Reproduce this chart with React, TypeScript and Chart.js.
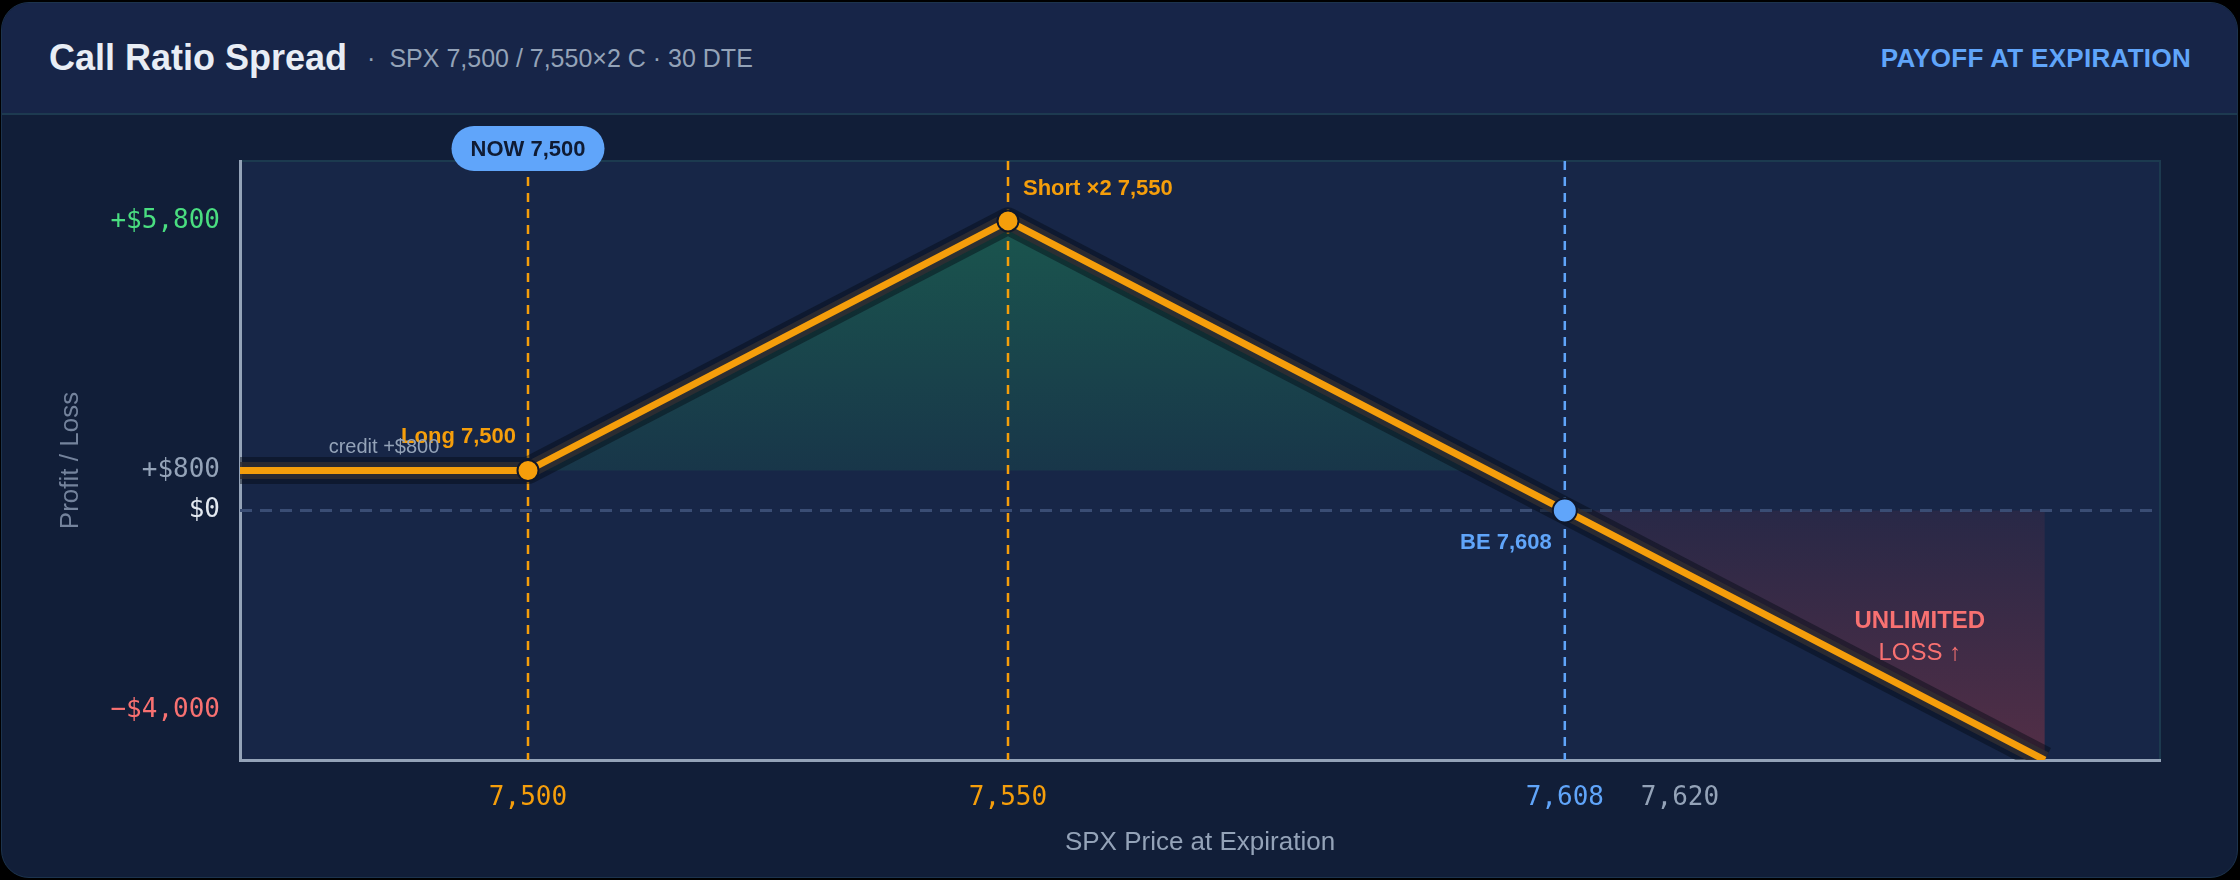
import React, { useEffect, useRef } from 'react';
import { Chart, registerables } from 'chart.js';

Chart.register(...registerables);

// ---- data ----
const payoffPrices = [7470, 7500, 7550, 7608, 7658];
const payoffPnl = [800, 800, 5800, 0, -5000];
const profitZonePrices = [7500, 7550, 7600];
const profitZonePnl = [800, 5800, 800];
const lossZonePrices = [7608, 7658];
const lossZonePnl = [0, -5000];
const strikePrices = [7500, 7550];
const breakEvenPrice = 7608;
const xTickValues = [7500, 7550, 7608, 7620];
const yTickValues = [-4000, 0, 800, 5800];
const xLimits = [7470, 7670];
const yLimits = [-5000, 7000];

const ORANGE = '#f59e0b';
const BLUE = '#60a5fa';
const SANS = "'Liberation Sans', Arial, sans-serif";
const MONO = "'DejaVu Sans Mono', monospace";

const fmt = (v: number) => Math.abs(v).toLocaleString('en-US');

const xTickColor = (v: number) =>
  strikePrices.includes(v) ? ORANGE : v === breakEvenPrice ? BLUE : '#94a3b8';
const yTickColor = (v: number) =>
  v === 5800 ? '#4ade80' : v === 0 ? '#e2e8f0' : v < 0 ? '#f87171' : '#94a3b8';

const bgPlugin = {
  id: 'plotBg',
  beforeDraw(chart: any) {
    const { ctx, chartArea: a } = chart;
    ctx.save();
    ctx.fillStyle = '#172647';
    ctx.fillRect(a.left, a.top, a.right - a.left, a.bottom - a.top);
    ctx.strokeStyle = '#1c3a4f';
    ctx.lineWidth = 2;
    ctx.beginPath();
    ctx.moveTo(a.left, a.top);
    ctx.lineTo(a.right, a.top);
    ctx.lineTo(a.right, a.bottom);
    ctx.stroke();
    ctx.restore();
  },
};

const labelPlugin = {
  id: 'labels',
  afterDatasetsDraw(chart: any) {
    const { ctx, chartArea: a, scales } = chart;
    const x = scales.x;
    const y = scales.y;
    const px = (v: number) => x.getPixelForValue(v);
    const py = (v: number) => y.getPixelForValue(v);
    ctx.save();
    ctx.textBaseline = 'middle';

    // Long strike label
    ctx.font = `bold 22px ${SANS}`;
    ctx.fillStyle = ORANGE;
    ctx.textAlign = 'right';
    ctx.fillText(`Long ${fmt(strikePrices[0])}`, px(strikePrices[0]) - 12, py(payoffPnl[1]) - 34);

    // credit label
    ctx.font = `20px ${SANS}`;
    ctx.fillStyle = '#94a3b8';
    ctx.textAlign = 'center';
    ctx.fillText(`credit +$${fmt(payoffPnl[0])}`, (a.left + px(strikePrices[0])) / 2, py(payoffPnl[0]) - 23);

    // Short strike label
    ctx.font = `bold 22px ${SANS}`;
    ctx.fillStyle = ORANGE;
    ctx.textAlign = 'left';
    ctx.fillText(`Short ×2 ${fmt(strikePrices[1])}`, px(strikePrices[1]) + 15, py(payoffPnl[2]) - 32);

    // Break-even label
    ctx.fillStyle = BLUE;
    ctx.textAlign = 'right';
    ctx.fillText(`BE ${fmt(breakEvenPrice)}`, px(breakEvenPrice) - 13, py(0) + 33);

    // Unlimited loss
    const lx = px(lossZonePrices[1]) - 125;
    ctx.fillStyle = '#f87171';
    ctx.textAlign = 'center';
    ctx.font = `bold 24px ${SANS}`;
    ctx.fillText('UNLIMITED', lx, py(0) + 111);
    ctx.font = `24px ${SANS}`;
    ctx.fillText('LOSS ↑', lx, py(0) + 143);

    // NOW pill
    const cx = px(strikePrices[0]);
    const cy = a.top - 12.5;
    const w = 153;
    const h = 45;
    ctx.fillStyle = BLUE;
    ctx.beginPath();
    ctx.roundRect(cx - w / 2, cy - h / 2, w, h, h / 2);
    ctx.fill();
    ctx.fillStyle = '#0f1b33';
    ctx.font = `bold 22px ${SANS}`;
    ctx.textAlign = 'center';
    ctx.fillText(`NOW ${fmt(strikePrices[0])}`, cx, cy + 1);
    ctx.restore();
  },
};

const pts = (xs: number[], ys: number[]) => xs.map((v, i) => ({ x: v, y: ys[i] }));

export default function App() {
  const ref = useRef<HTMLCanvasElement | null>(null);

  useEffect(() => {
    if (!ref.current) return;
    const greenFill = (c: any) => {
      const ch = c.chart;
      if (!ch.chartArea) return 'rgba(34,197,94,0.15)';
      const y0 = ch.scales.y.getPixelForValue(5800);
      const y1 = ch.scales.y.getPixelForValue(800);
      const g = ch.ctx.createLinearGradient(0, y0, 0, y1);
      g.addColorStop(0, 'rgba(34,197,94,0.30)');
      g.addColorStop(1, 'rgba(34,197,94,0.10)');
      return g;
    };
    const redFill = (c: any) => {
      const ch = c.chart;
      if (!ch.chartArea) return 'rgba(239,68,68,0.15)';
      const y0 = ch.scales.y.getPixelForValue(0);
      const y1 = ch.scales.y.getPixelForValue(-5000);
      const g = ch.ctx.createLinearGradient(0, y0, 0, y1);
      g.addColorStop(0, 'rgba(239,68,68,0.08)');
      g.addColorStop(1, 'rgba(239,68,68,0.28)');
      return g;
    };
    const vline = (v: number, color: string, order: number) => ({
      data: [{ x: v, y: yLimits[1] }, { x: v, y: yLimits[0] }],
      borderColor: color,
      borderWidth: 2.5,
      borderDash: [9, 7],
      pointRadius: 0,
      fill: false,
      order,
    });
    const payoff = pts(payoffPrices, payoffPnl);
    const chart = new Chart(ref.current, {
      type: 'line',
      data: {
        datasets: [
          {
            data: payoff,
            borderColor: ORANGE,
            borderWidth: 7,
            borderJoinStyle: 'round',
            tension: 0,
            pointRadius: [0, 10.5, 10.5, 12, 0],
            pointBackgroundColor: [ORANGE, ORANGE, ORANGE, BLUE, ORANGE],
            pointBorderColor: '#0f172a',
            pointBorderWidth: 2,
            fill: false,
            order: 0,
          },
          {
            data: payoff,
            borderColor: 'rgba(50,46,50,0.8)',
            borderWidth: 17,
            borderJoinStyle: 'round',
            pointRadius: 0,
            fill: false,
            order: 1,
          },
          {
            data: payoff,
            borderColor: 'rgba(5,10,20,0.45)',
            borderWidth: 27,
            borderJoinStyle: 'round',
            pointRadius: 0,
            fill: false,
            order: 2,
          },
          vline(strikePrices[0], ORANGE, 3),
          vline(strikePrices[1], ORANGE, 3),
          vline(breakEvenPrice, BLUE, 3),
          {
            data: [{ x: xLimits[0], y: 0 }, { x: xLimits[1], y: 0 }],
            borderColor: '#3a4d74',
            borderWidth: 3,
            borderDash: [12, 8],
            pointRadius: 0,
            fill: false,
            order: 4,
          },
          {
            data: pts(profitZonePrices, profitZonePnl),
            borderWidth: 0,
            borderColor: 'transparent',
            pointRadius: 0,
            backgroundColor: greenFill,
            fill: { value: 800 },
            order: 5,
          },
          {
            data: pts(lossZonePrices, lossZonePnl),
            borderWidth: 0,
            borderColor: 'transparent',
            pointRadius: 0,
            backgroundColor: redFill,
            fill: { value: 0 },
            order: 5,
          },
        ] as any,
      },
      options: {
        responsive: false,
        animation: false,
        devicePixelRatio: 1,
        layout: { padding: { left: 0, right: 80, top: 46, bottom: 0 } },
        plugins: { legend: { display: false }, tooltip: { enabled: false } },
        scales: {
          x: {
            type: 'linear',
            min: xLimits[0],
            max: xLimits[1],
            afterBuildTicks: (s: any) => {
              s.ticks = xTickValues.map((v) => ({ value: v }));
            },
            afterFit: (s: any) => {
              s.height = 120;
            },
            grid: { display: false, drawTicks: false },
            border: { display: true, color: '#94a3b8', width: 3 },
            ticks: {
              padding: 23,
              autoSkip: false,
              maxRotation: 0,
              color: (c: any) => xTickColor(c.tick.value),
              font: { family: MONO, size: 26 },
              callback: (v: any) => fmt(Number(v)),
            },
            title: {
              display: true,
              text: 'SPX Price at Expiration',
              color: '#94a3b8',
              font: { family: SANS, size: 26 },
              padding: { top: 0, bottom: 22 },
            },
          },
          y: {
            type: 'linear',
            min: yLimits[0],
            max: yLimits[1],
            afterBuildTicks: (s: any) => {
              s.ticks = yTickValues.map((v) => ({ value: v }));
            },
            afterFit: (s: any) => {
              s.width = 240;
            },
            grid: { display: false, drawTicks: false },
            border: { display: true, color: '#94a3b8', width: 3 },
            ticks: {
              padding: 20,
              autoSkip: false,
              color: (c: any) => yTickColor(c.tick.value),
              font: { family: MONO, size: 26 },
              callback: (v: any) => {
                const n = Number(v);
                return n > 0 ? `+$${fmt(n)}` : n < 0 ? `−$${fmt(n)}` : '$0';
              },
            },
            title: {
              display: true,
              text: 'Profit / Loss',
              color: '#74839c',
              font: { family: SANS, size: 26 },
              padding: { top: 55, bottom: 0 },
            },
          },
        },
      } as any,
      plugins: [bgPlugin, labelPlugin],
    });
    return () => chart.destroy();
  }, []);

  return (
    <div style={{ position: 'fixed', left: 0, top: 0, width: 2240, height: 880, background: '#000', overflow: 'hidden' }}>
      <div
        style={{
          position: 'absolute',
          left: 1,
          top: 2,
          width: 2237,
          height: 876,
          boxSizing: 'border-box',
          borderRadius: 28,
          border: '1px solid #1c334d',
          background: '#111e38',
          overflow: 'hidden',
          fontFamily: SANS,
        }}
      >
        <div
          style={{
            height: 110,
            background: '#172548',
            borderBottom: '2px solid #1d3a50',
            display: 'flex',
            alignItems: 'center',
            padding: '0 46px 0 47px',
            boxSizing: 'content-box',
          }}
        >
          <span style={{ fontSize: 36, fontWeight: 700, color: '#e8edf5' }}>Call Ratio Spread</span>
          <span style={{ fontSize: 25, color: '#94a3b8', marginLeft: 20 }}>
            <span style={{ marginRight: 14 }}>·</span>SPX 7,500 / 7,550×2 C · 30 DTE
          </span>
          <span style={{ marginLeft: 'auto', fontSize: 26, letterSpacing: 0.3, fontWeight: 700, color: BLUE }}>
            PAYOFF AT EXPIRATION
          </span>
        </div>
      </div>
      <canvas
        ref={ref}
        width={2240}
        height={765}
        style={{ position: 'absolute', left: 0, top: 115, width: 2240, height: 765 }}
      />
    </div>
  );
}
